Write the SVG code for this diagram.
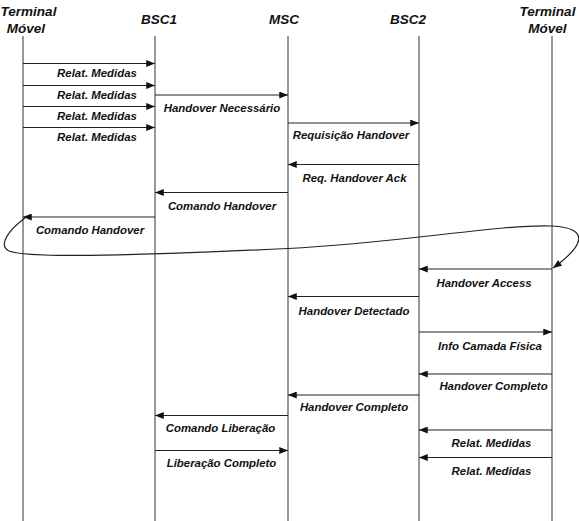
<svg xmlns="http://www.w3.org/2000/svg" width="579" height="521" viewBox="0 0 579 521">
<style>
.hdr{font-family:"Liberation Sans",Arial,sans-serif;font-weight:bold;font-style:italic;font-size:13.5px;fill:#111;text-anchor:middle}
.lbl{font-family:"Liberation Sans",Arial,sans-serif;font-weight:bold;font-style:italic;font-size:11.4px;fill:#111;text-anchor:middle}
.life{stroke:#333;stroke-width:1;fill:none}
.msg{stroke:#222;stroke-width:1.2;fill:none;marker-end:url(#ah)}
</style>
<defs>
<marker id="ah" viewBox="0 0 10 8" refX="10" refY="4" markerWidth="9" markerHeight="7" markerUnits="userSpaceOnUse" orient="auto">
<path d="M0,0 L10,4 L0,8 Z" fill="#111"/>
</marker>
</defs>
<rect width="579" height="521" fill="#fff"/>
<g id="terminal-left">
<text class="hdr" x="28.5" y="16">Terminal</text>
<text class="hdr" x="26" y="33">Móvel</text>
<line class="life" x1="23" y1="36" x2="23" y2="521"/>
</g>
<g id="bsc1">
<text class="hdr" x="159" y="24">BSC1</text>
<line class="life" x1="155" y1="36" x2="155" y2="521"/>
</g>
<g id="msc">
<text class="hdr" x="284" y="24">MSC</text>
<line class="life" x1="288" y1="36" x2="288" y2="521"/>
</g>
<g id="bsc2">
<text class="hdr" x="408" y="24">BSC2</text>
<line class="life" x1="419" y1="36" x2="419" y2="521"/>
</g>
<g id="terminal-right">
<text class="hdr" x="547.5" y="16">Terminal</text>
<text class="hdr" x="547.5" y="33">Móvel</text>
<line class="life" x1="552" y1="36" x2="552" y2="521"/>
</g>
<g id="connectors">
<line class="msg" x1="23" y1="63.5" x2="155" y2="63.5"/>
<line class="msg" x1="23" y1="85.5" x2="155" y2="85.5"/>
<line class="msg" x1="23" y1="106.5" x2="155" y2="106.5"/>
<line class="msg" x1="23" y1="127.5" x2="155" y2="127.5"/>
<line class="msg" x1="155" y1="95" x2="288" y2="95"/>
<line class="msg" x1="288" y1="123" x2="419" y2="123"/>
<line class="msg" x1="419" y1="164.5" x2="288" y2="164.5"/>
<line class="msg" x1="288" y1="192.5" x2="155" y2="192.5"/>
<line class="msg" x1="155" y1="217" x2="23" y2="217"/>
<path class="msg" d="M25,218 C10,229 -3,245 9,251 C30,259 150,255 288,248.5 C400,243 500,224 552,226 C590,228 585,245 553,268"/>
<line class="msg" x1="552" y1="269" x2="419" y2="269"/>
<line class="msg" x1="419" y1="296.5" x2="288" y2="296.5"/>
<line class="msg" x1="419" y1="332" x2="552" y2="332"/>
<line class="msg" x1="552" y1="374" x2="419" y2="374"/>
<line class="msg" x1="419" y1="395" x2="288" y2="395"/>
<line class="msg" x1="288" y1="415.5" x2="155" y2="415.5"/>
<line class="msg" x1="155" y1="450.5" x2="288" y2="450.5"/>
<line class="msg" x1="552" y1="430" x2="419" y2="430"/>
<line class="msg" x1="552" y1="457.5" x2="419" y2="457.5"/>
</g>
<g id="labels">
<text class="lbl" x="97" y="77">Relat. Medidas</text>
<text class="lbl" x="97" y="99">Relat. Medidas</text>
<text class="lbl" x="97" y="120">Relat. Medidas</text>
<text class="lbl" x="97" y="141">Relat. Medidas</text>
<text class="lbl" x="222" y="112">Handover Necessário</text>
<text class="lbl" x="351" y="139">Requisição Handover</text>
<text class="lbl" x="354.5" y="181.5">Req. Handover Ack</text>
<text class="lbl" x="222" y="210">Comando Handover</text>
<text class="lbl" x="90" y="233.5">Comando Handover</text>
<text class="lbl" x="484" y="287">Handover Access</text>
<text class="lbl" x="354" y="315">Handover Detectado</text>
<text class="lbl" x="490" y="350">Info Camada Física</text>
<text class="lbl" x="493.5" y="390">Handover Completo</text>
<text class="lbl" x="354" y="411">Handover Completo</text>
<text class="lbl" x="220.5" y="432">Comando Liberação</text>
<text class="lbl" x="221.5" y="467">Liberação Completo</text>
<text class="lbl" x="491.5" y="447">Relat. Medidas</text>
<text class="lbl" x="491.5" y="475">Relat. Medidas</text>
</g>
</svg>
